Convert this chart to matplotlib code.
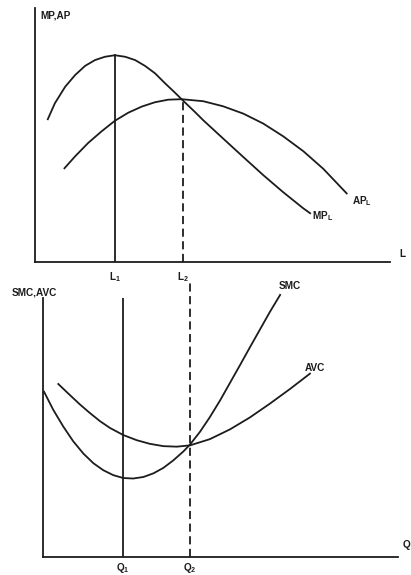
import matplotlib.pyplot as plt

plt.rcParams['font.family'] = 'Liberation Sans'
plt.rcParams['font.weight'] = 'bold'
plt.rcParams['mathtext.fontset'] = 'custom'
plt.rcParams['mathtext.rm'] = 'Liberation Sans:bold'
plt.rcParams['mathtext.it'] = 'Liberation Sans:bold'
plt.rcParams['mathtext.bf'] = 'Liberation Sans:bold'

# top panel: product curves (labour on x)
mp_x = [0.36, 0.56, 0.85, 1.13, 1.41, 1.69, 1.97, 2.25, 2.54, 2.82, 3.10, 3.38,
        3.66, 3.94, 4.18, 4.51, 4.74, 5.30, 5.87, 6.43, 6.99, 7.56, 7.75]
mp_y = [5.62, 6.25, 6.90, 7.36, 7.72, 7.95, 8.08, 8.14, 8.08, 7.95, 7.72, 7.43,
        7.04, 6.67, 6.34, 5.90, 5.58, 4.86, 4.13, 3.42, 2.75, 2.11, 1.92]
ap_x = [0.83, 1.13, 1.50, 1.88, 2.25, 2.63, 3.01, 3.38, 3.75, 4.13, 4.74, 5.30,
        5.87, 6.43, 6.99, 7.56, 8.12, 8.78]
ap_y = [3.69, 4.16, 4.69, 5.15, 5.56, 5.88, 6.12, 6.29, 6.39, 6.41, 6.33, 6.13,
        5.84, 5.45, 4.95, 4.36, 3.67, 2.70]
L1, L1_top = 2.25, 8.14
L2, L2_top = 4.17, 6.40

# bottom panel: cost curves (output on x)
smc_x = [0.03, 0.29, 0.57, 0.85, 1.14, 1.42, 1.70, 1.98, 2.26, 2.54, 2.83, 3.11,
         3.39, 3.67, 3.95, 4.14, 4.42, 4.70, 4.99, 5.27, 5.55, 5.83, 6.11, 6.39, 6.68]
smc_y = [6.38, 5.68, 5.04, 4.47, 3.99, 3.62, 3.35, 3.16, 3.05, 3.03, 3.09, 3.23,
         3.44, 3.73, 4.07, 4.34, 4.83, 5.40, 6.05, 6.73, 7.41, 8.10, 8.78, 9.46, 10.12]
avc_x = [0.43, 0.76, 1.04, 1.32, 1.61, 1.89, 2.26, 2.64, 3.01, 3.39, 3.77, 4.14,
         4.70, 5.27, 5.83, 6.39, 6.96, 7.52]
avc_y = [6.68, 6.25, 5.89, 5.56, 5.24, 4.98, 4.71, 4.51, 4.37, 4.28, 4.26, 4.31,
         4.55, 4.93, 5.39, 5.92, 6.49, 7.08]
Q1, Q2 = 2.24, 4.14

ink = '#1c1c1c'
lw = 1.3
dash = (0, (4.5, 2.5))

fig = plt.figure(figsize=(4.11, 5.75), dpi=100)
ax1 = fig.add_axes([35/411, 1-262/575, 355/411, 254/575])
ax2 = fig.add_axes([43/411, 1-557/575, 355/411, 259/575])

for ax in (ax1, ax2):
    ax.set_xlim(0, 10)
    ax.set_ylim(0, 10)
    ax.spines['top'].set_visible(False)
    ax.spines['right'].set_visible(False)
    for s in ('left', 'bottom'):
        ax.spines[s].set_color(ink)
        ax.spines[s].set_linewidth(lw)
    ax.set_xticks([])
    ax.set_yticks([])

fs = 7.2

ax1.plot(mp_x, mp_y, color=ink, lw=lw, clip_on=False)
ax1.plot(ap_x, ap_y, color=ink, lw=lw, clip_on=False)
ax1.plot([L1, L1], [0, L1_top], color=ink, lw=lw)
ax1.plot([L2, L2], [0, L2_top], color=ink, lw=lw, ls=dash)
ax1.text(0.15, 9.7, 'MP,AP', fontsize=fs, ha='left', va='center', color=ink)
ax1.text(10.25, 0.3, 'L', fontsize=fs, ha='left', va='center', color=ink)
ax1.text(L1, -0.6, r'L$_\mathbf{1}$', fontsize=fs, ha='center', va='center', color=ink)
ax1.text(L2, -0.6, r'L$_\mathbf{2}$', fontsize=fs, ha='center', va='center', color=ink)
ax1.text(8.1, 1.8, r'MP$_\mathbf{L}$', fontsize=fs, ha='center', va='center', color=ink)
ax1.text(9.2, 2.4, r'AP$_\mathbf{L}$', fontsize=fs, ha='center', va='center', color=ink)

ax2.plot(smc_x, smc_y, color=ink, lw=lw, clip_on=False)
ax2.plot(avc_x, avc_y, color=ink, lw=lw, clip_on=False)
ax2.plot([Q1, Q1], [0, 10], color=ink, lw=lw)
ax2.plot([Q2, Q2], [0, 10.6], color=ink, lw=lw, ls=dash, clip_on=False)
ax2.text(-0.87, 10.2, 'SMC,AVC', fontsize=fs, ha='left', va='center', color=ink)
ax2.text(6.96, 10.45, 'SMC', fontsize=fs, ha='center', va='center', color=ink)
ax2.text(7.66, 7.3, 'AVC', fontsize=fs, ha='center', va='center', color=ink)
ax2.text(10.14, 0.45, 'Q', fontsize=fs, ha='left', va='center', color=ink)
ax2.text(Q1, -0.42, r'Q$_\mathbf{1}$', fontsize=fs, ha='center', va='center', color=ink)
ax2.text(Q2, -0.42, r'Q$_\mathbf{2}$', fontsize=fs, ha='center', va='center', color=ink)

fig.savefig('out.png', dpi=100)
